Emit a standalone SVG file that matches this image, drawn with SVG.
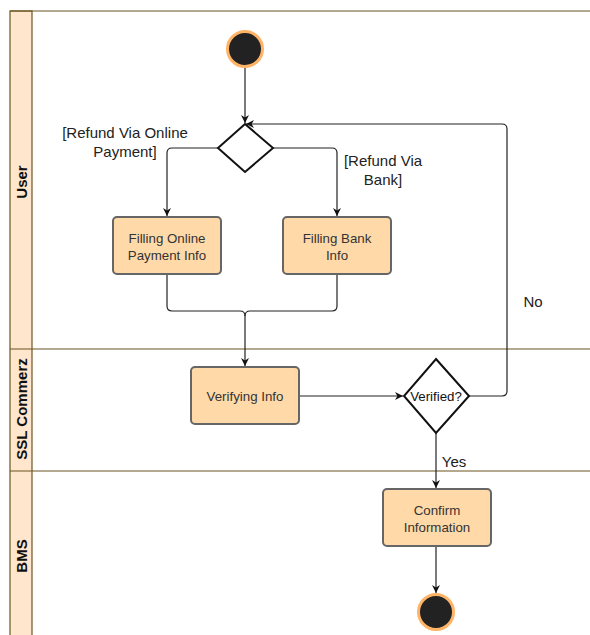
<svg xmlns="http://www.w3.org/2000/svg" width="590" height="635" viewBox="0 0 590 635">
  <style>
    .lane-head { fill: #FFE6CC; stroke: #6B5420; stroke-width: 1.2; }
    .lane-line { stroke: #6B5420; stroke-width: 1.2; fill: none; }
    .lane-title { font-family: "Liberation Sans", Arial, sans-serif; font-size: 15px; font-weight: bold; fill: #111; text-anchor: middle; }
    .act { fill: #FFDAA8; stroke: #666; stroke-width: 2; }
    .act-text { font-family: "Liberation Sans", Arial, sans-serif; font-size: 13.3px; fill: #333; text-anchor: middle; }
    .decision { fill: #fff; stroke: #111; stroke-width: 2; }
    .state { fill: #222; stroke: #FFB366; stroke-width: 3; }
    .edge { fill: none; stroke: #222; stroke-width: 1.2; }
    .label { font-family: "Liberation Sans", Arial, sans-serif; font-size: 15px; fill: #222; text-anchor: middle; }
  </style>
  <defs>
    <marker id="arrow" viewBox="0 0 10 10" refX="10" refY="5" markerWidth="8" markerHeight="8" markerUnits="userSpaceOnUse" orient="auto">
      <path d="M0,0 L10,5 L0,10 L3,5 Z" fill="#111"/>
    </marker>
  </defs>

  <rect width="590" height="635" fill="#fff"/>

  <!-- swimlanes -->
  <g id="lanes">
    <rect class="lane-head" x="10" y="11" width="22" height="630"/>
    <line class="lane-line" x1="10" y1="11" x2="590" y2="11"/>
    <line class="lane-line" x1="10" y1="349" x2="590" y2="349"/>
    <line class="lane-line" x1="10" y1="471" x2="590" y2="471"/>
    <text class="lane-title" transform="translate(27,182) rotate(-90)">User</text>
    <text class="lane-title" transform="translate(27,409) rotate(-90)">SSL Commerz</text>
    <text class="lane-title" transform="translate(27,556) rotate(-90)">BMS</text>
  </g>

  <!-- connectors -->
  <g id="connectors">
    <path class="edge" d="M245,67 V123" marker-end="url(#arrow)"/>
    <path class="edge" d="M218,148 H172 Q167,148 167,153 V216" marker-end="url(#arrow)"/>
    <path class="edge" d="M273,148 H332 Q337,148 337,153 V216" marker-end="url(#arrow)"/>
    <path class="edge" d="M167,274 V306 Q167,311 172,311 H240 Q245,311 245,316 V366" marker-end="url(#arrow)"/>
    <path class="edge" d="M337,274 V306 Q337,311 332,311 H250 Q245,311 245,316"/>
    <path class="edge" d="M299,396 H403" marker-end="url(#arrow)"/>
    <path class="edge" d="M469,396 H502 Q507,396 507,391 V129 Q507,124 502,124 H246" marker-end="url(#arrow)"/>
    <path class="edge" d="M436,433 V488" marker-end="url(#arrow)"/>
    <path class="edge" d="M436,546 V593" marker-end="url(#arrow)"/>
    <text class="label" x="125" y="138">[Refund Via Online</text>
    <text class="label" x="125" y="157">Payment]</text>
    <text class="label" x="383" y="166">[Refund Via</text>
    <text class="label" x="383" y="185">Bank]</text>
    <text class="label" x="533" y="307">No</text>
    <text class="label" x="454" y="467">Yes</text>
  </g>

  <!-- nodes -->
  <g id="start">
    <circle class="state" cx="245" cy="49" r="17.5"/>
  </g>
  <g id="choice">
    <polygon class="decision" points="245,124 273,148 245,172 218,148"/>
  </g>
  <g id="filling-online">
    <rect class="act" x="113" y="217" width="108" height="57" rx="4"/>
    <text class="act-text" x="167" y="243">Filling Online</text>
    <text class="act-text" x="167" y="260">Payment Info</text>
  </g>
  <g id="filling-bank">
    <rect class="act" x="283" y="217" width="108" height="57" rx="4"/>
    <text class="act-text" x="337" y="243">Filling Bank</text>
    <text class="act-text" x="337" y="260">Info</text>
  </g>
  <g id="verifying">
    <rect class="act" x="191" y="367" width="108" height="57" rx="4"/>
    <text class="act-text" x="245" y="401">Verifying Info</text>
  </g>
  <g id="verified">
    <polygon class="decision" points="436,359 469,396 436,433 404,396"/>
    <text class="act-text" x="436" y="401" style="fill:#111">Verified?</text>
  </g>
  <g id="confirm">
    <rect class="act" x="383" y="489" width="108" height="57" rx="4"/>
    <text class="act-text" x="437" y="515">Confirm</text>
    <text class="act-text" x="437" y="532">Information</text>
  </g>
  <g id="end">
    <circle class="state" cx="436" cy="612" r="17.5"/>
  </g>
</svg>
